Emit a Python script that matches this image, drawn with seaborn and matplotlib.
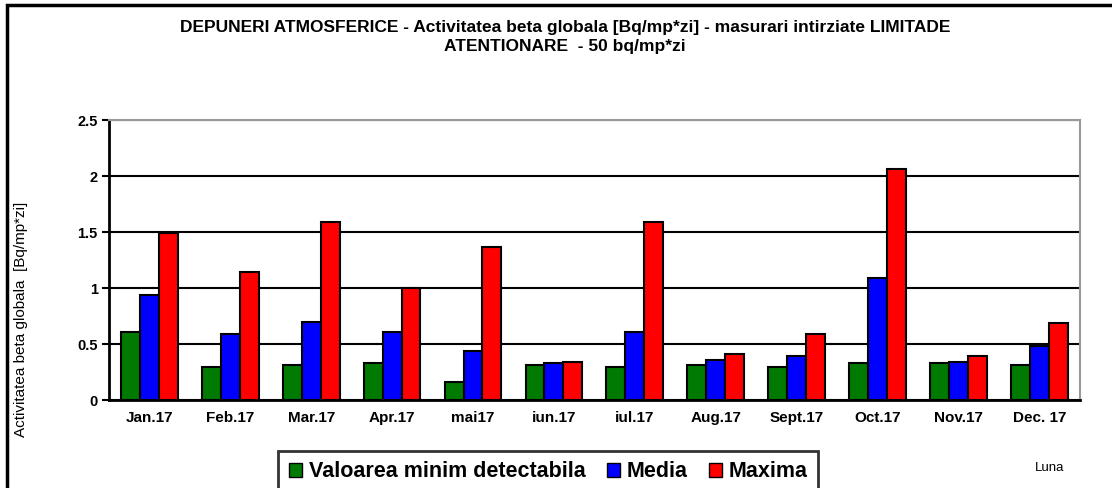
import pandas as pd
import numpy as np
import matplotlib.pyplot as plt
import seaborn as sns
from matplotlib.patches import Patch, Rectangle

# Monthly values [Bq/mp*zi]
luni = ['Jan.17', 'Feb.17', 'Mar.17', 'Apr.17', 'mai17', 'iun.17',
        'iul.17', 'Aug.17', 'Sept.17', 'Oct.17', 'Nov.17', 'Dec. 17']
minim_detectabil = [0.61, 0.30, 0.31, 0.33, 0.16, 0.31, 0.30, 0.31, 0.30, 0.33, 0.33, 0.31]
media = [0.94, 0.59, 0.70, 0.61, 0.44, 0.33, 0.61, 0.36, 0.39, 1.09, 0.34, 0.48]
maxima = [1.49, 1.14, 1.59, 1.00, 1.37, 0.34, 1.59, 0.41, 0.59, 2.06, 0.39, 0.69]
serii = ['Valoarea minim detectabila', 'Media', 'Maxima']
culori = ['#007a00', '#0000ff', '#ff0000']

df = pd.DataFrame({'luna': luni * 3,
                   'serie': [serii[0]] * 12 + [serii[1]] * 12 + [serii[2]] * 12,
                   'valoare': minim_detectabil + media + maxima})

sns.set_style('white')
plt.rcParams['font.family'] = ['Liberation Sans', 'DejaVu Sans']
plt.rcParams['text.color'] = 'black'
plt.rcParams['xtick.color'] = 'black'
plt.rcParams['ytick.color'] = 'black'

fig = plt.figure(figsize=(11.12, 4.88), dpi=100)
ax = fig.add_axes([0.098, 0.180, 0.873, 0.574])

sns.barplot(data=df, x='luna', y='valoare', hue='serie', hue_order=serii,
            palette=culori, width=0.7, edgecolor='black', linewidth=1.5,
            saturation=1, ax=ax, legend=False)

ax.set_ylim(0, 2.5)
ax.set_xlim(-0.5, 11.5)
ax.set_yticks([0, 0.5, 1, 1.5, 2, 2.5])
ax.set_yticklabels(['0', '0.5', '1', '1.5', '2', '2.5'], fontsize=10.5, fontweight='bold')
ax.set_xticklabels(luni, fontsize=11, fontweight='bold')
ax.tick_params(axis='x', which='major', length=0, pad=8)
ax.set_xticks(np.arange(-0.5, 12, 1), minor=True)
ax.tick_params(axis='x', which='minor', length=5, width=1.5, direction='out', color='black')
ax.tick_params(axis='y', length=5, width=1.5, direction='out', color='black', left=True, pad=3)

ax.set_axisbelow(True)
ax.yaxis.grid(True, color='black', linewidth=1.5)
for s in ['left', 'bottom']:
    ax.spines[s].set_color('black')
    ax.spines[s].set_linewidth(2)
for s in ['top', 'right']:
    ax.spines[s].set_color('#999999')
    ax.spines[s].set_linewidth(1.5)

ax.set_xlabel('')
ax.set_ylabel('')
fig.text(0.019, 0.345, 'Activitatea beta globala  [Bq/mp*zi]', rotation=90,
         ha='center', va='center', fontsize=11)

fig.text(0.508, 0.958,
         'DEPUNERI ATMOSFERICE - Activitatea beta globala [Bq/mp*zi] - masurari intirziate LIMITADE\n'
         'ATENTIONARE  - 50 bq/mp*zi',
         ha='center', va='top', fontsize=12.5, fontweight='bold', linespacing=1.3)

fig.text(0.944, 0.04, 'Luna', ha='center', va='center', fontsize=9.5)

# legend box at the bottom
handles = [Patch(facecolor=c, edgecolor='black', linewidth=1) for c in culori]
leg = fig.legend(handles, serii, loc='center', bbox_to_anchor=(0.493, 0.033), ncol=3,
                 frameon=True, fancybox=False, edgecolor='black',
                 prop={'size': 15.5, 'weight': 'bold'}, handlelength=0.6, handleheight=0.6,
                 handletextpad=0.3, columnspacing=1.0, borderpad=0.5)
leg.get_frame().set_linewidth(2)

# outer frame of the chart
fig.patches.append(Rectangle((0.006, -0.05), 1.1, 1.04, transform=fig.transFigure,
                             fill=False, edgecolor='black', linewidth=2.5))

fig.savefig('out.png', dpi=100)
